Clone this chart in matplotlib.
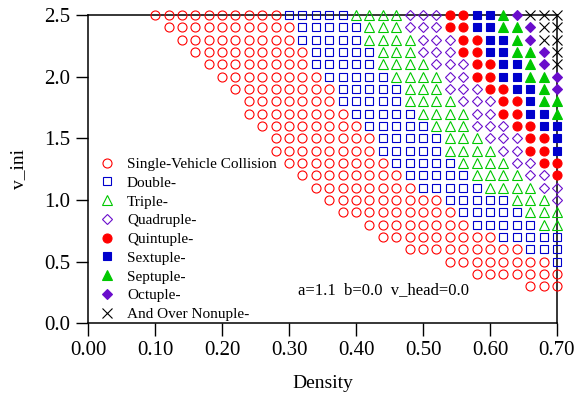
import numpy as np
import matplotlib
matplotlib.use('Agg')
import matplotlib.pyplot as plt

plt.rcParams['font.family'] = ['Liberation Serif', 'DejaVu Serif']

# initial velocity of each row, and the lowest density where a collision shows up
v_ini = [2.5, 2.4, 2.3, 2.2, 2.1, 2.0, 1.9, 1.8, 1.7, 1.6, 1.5, 1.4,
         1.3, 1.2, 1.1, 1.0, 0.9, 0.8, 0.7, 0.6, 0.5, 0.4, 0.3]
first_density = [0.10, 0.12, 0.14, 0.16, 0.18, 0.20, 0.22, 0.24, 0.24, 0.26, 0.28, 0.28,
                 0.30, 0.32, 0.34, 0.36, 0.38, 0.42, 0.44, 0.48, 0.54, 0.58, 0.66]
density_step = 0.02

# run lengths along density for each collision class (single .. nonuple+), one list per row
class_counts = [
    [10, 5, 4, 3, 2, 2, 1, 1, 3],
    [10, 5, 3, 3, 2, 2, 2, 1, 2],
    [9, 5, 4, 3, 2, 2, 1, 1, 2],
    [9, 5, 3, 3, 2, 2, 2, 1, 1],
    [8, 5, 4, 3, 2, 2, 1, 1, 1],
    [8, 5, 4, 2, 2, 2, 2, 1],
    [8, 5, 3, 3, 2, 2, 1, 1],
    [7, 5, 4, 3, 2, 1, 2],
    [8, 5, 4, 2, 2, 2, 1],
    [8, 5, 3, 3, 2, 2],
    [8, 5, 3, 3, 2, 1],
    [8, 5, 4, 2, 2, 1],
    [8, 5, 4, 2, 2],
    [8, 5, 4, 2, 1],
    [8, 5, 4, 2],
    [9, 5, 3, 1],
    [9, 5, 3],
    [8, 5, 2],
    [9, 5],
    [9, 3],
    [8, 1],
    [7],
    [3],
]

labels = ['Single-Vehicle Collision', 'Double-', 'Triple-', 'Quadruple-', 'Quintuple-',
          'Sextuple-', 'Septuple-', 'Octuple-', 'And Over Nonuple-']
markers = ['o', 's', '^', 'D', 'o', 's', '^', 'D', 'x']
colors = ['#ff0000', '#0000cc', '#00c800', '#6a0dcc',
          '#ff0000', '#0000cc', '#00c800', '#6a0dcc', 'black']
sizes = [6.5, 6.2, 7, 4.6, 6.5, 6.2, 7, 5.0, 6.5]

# expand run lengths into points per class
pts = [([], []) for _ in labels]
for v, d0, counts in zip(v_ini, first_density, class_counts):
    i = 0
    for k, n in enumerate(counts):
        for j in range(n):
            pts[k][0].append(round(d0 + density_step * i, 2))
            pts[k][1].append(v)
            i += 1

fig = plt.figure(figsize=(5.76, 3.96), dpi=100)
ax = fig.add_axes([0.153, 0.184, 0.814, 0.778])

for k in range(len(labels)):
    open_marker = k < 4
    ax.plot(pts[k][0], pts[k][1], linestyle='none', marker=markers[k],
            markersize=sizes[k], color=colors[k],
            markerfacecolor='none' if open_marker else colors[k],
            markeredgewidth=0.8, clip_on=False, label=labels[k], zorder=3)

ax.set_xlim(0, 0.70)
ax.set_ylim(0, 2.5)
ax.set_xticks(np.arange(0, 0.71, 0.1))
ax.set_xticklabels(['%.2f' % t for t in np.arange(0, 0.71, 0.1)])
ax.set_yticks(np.arange(0, 2.51, 0.5))
ax.set_yticklabels(['%.1f' % t for t in np.arange(0, 2.51, 0.5)])
ax.tick_params(direction='out', length=9, width=1, pad=4, labelsize=15, top=False, right=False)
for s in ax.spines.values():
    s.set_linewidth(1.1)

ax.set_xlabel('Density', fontsize=14, labelpad=11)
ax.set_ylabel('v_ini', fontsize=14, labelpad=12)

ax.text(0.313, 0.27, 'a=1.1  b=0.0  v_head=0.0', fontsize=12, va='center')

ax.legend(loc='lower left', bbox_to_anchor=(0.024, 0.007), frameon=False, fontsize=11,
          handlelength=1.0, handletextpad=0.8, labelspacing=0.33, borderpad=0,
          borderaxespad=0, numpoints=1)

fig.savefig('out.png', dpi=100)
